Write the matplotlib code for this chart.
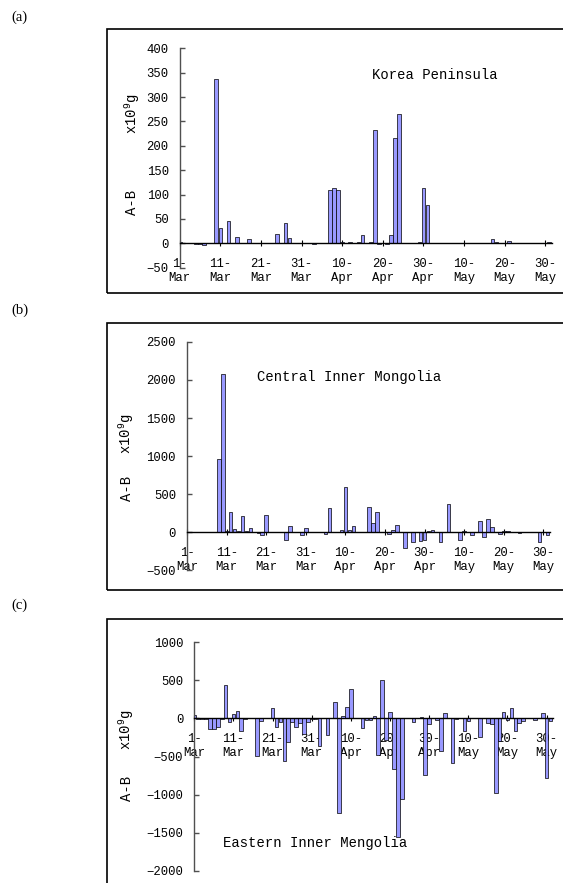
import numpy as np
import matplotlib
matplotlib.use('Agg')
import matplotlib.pyplot as plt
from matplotlib.patches import Rectangle

#%% data

tick_pos = [0, 10, 20, 30, 40, 50, 60, 70, 80, 90]
tick_lab = ['1-\nMar', '11-\nMar', '21-\nMar', '31-\nMar', '10-\nApr',
            '20-\nApr', '30-\nApr', '10-\nMay', '20-\nMay', '30-\nMay']

# daily A-B (x10^9 g), 1 Mar .. 1 Jun
korea = [3, 0, 0, 0, -1, -1, -3, 0, 0, 338,
         31, 0, 46, 0, 12, 0, 0, 8, 0, 0,
         0, 0, 0, 0, 20, 0, 42, 10, 0, 0,
         0, 0, 0, -2, 0, 0, 0, 110, 114, 110,
         3, 0, 2, 0, 2, 17, 0, 3, 232, -1,
         0, -1, 17, 215, 265, 0, 0, 0, 0, 2,
         113, 78, 0, 0, 0, 0, 0, 0, 0, 0,
         0, 0, 0, 1, 0, 0, 0, 9, 2, 0,
         0, 5, 0, 0, 0, 0, 0, 0, 0, 0,
         0, 2]

central = [0, 0, 0, 0, 0, 0, 0, 0, 960, 2080,
           20, 265, 40, 15, 215, 15, 50, 0, -10, -40,
           230, 0, 0, 5, 0, -105, 87, 0, 0, -40,
           50, 0, 0, 0, 0, -20, 322, 10, 10, 25,
           600, 35, 87, 0, 0, 0, 335, 117, 268, 10,
           10, -22, 31, 98, 0, -210, 0, -130, 0, -118,
           -103, 15, 33, 0, -130, 10, 366, 10, 0, -100,
           15, 0, -33, 0, 142, -57, 172, 65, 10, -22,
           12, 20, 10, 0, -10, 0, 5, 0, 0, -130,
           0, -33]

eastern = [40, -5, -5, -5, -140, -140, -110, -10, 435, -42,
           57, 96, -162, -10, 0, 0, -495, -35, 0, 0,
           143, -118, -44, -561, -305, -44, -112, -65, -210, -50,
           -10, -10, -360, 0, -220, 0, 215, -1245, 31, 145,
           392, 0, 10, -130, -15, -25, 31, -475, 508, -280,
           80, -670, -1563, -1063, 10, 0, -52, 0, 15, -745,
           -72, 0, -18, -423, 70, 0, -585, -5, 0, -160,
           -30, 0, 0, -240, 10, -60, -73, -985, -295, 88,
           -15, 140, -170, -60, -33, 0, 0, -15, 0, 65,
           -788, -30]

days = np.arange(len(korea))

#%% style

W, H = 563, 883
mono = 'Liberation Mono'
plt.rcParams['font.family'] = [mono, 'DejaVu Sans']
plt.rcParams['mathtext.fontset'] = 'custom'
plt.rcParams['mathtext.rm'] = mono
plt.rcParams['mathtext.it'] = mono

bar_col = '#9999FF'
axis_col = '#505050'


def fx(px):
    return px / W


def fy(py):
    return 1 - py / H


def panel(fig, box, vals, ylim, yticks, title, title_xy, lab_x, lab_y, frame_y, letter, letter_y):
    left, top, right, bottom = box
    ax = fig.add_axes([fx(left), fy(bottom), fx(right) - fx(left), fy(top) - fy(bottom)])
    ax.bar(days, vals, width=0.92, color=bar_col, edgecolor='black', linewidth=0.5, zorder=2)
    ax.set_xlim(0, 91.6)
    ax.set_ylim(*ylim)
    ax.set_yticks(yticks)
    ax.set_xticks(tick_pos)
    ax.set_xticklabels(tick_lab, linespacing=1.35)
    for s in ['top', 'right']:
        ax.spines[s].set_visible(False)
    ax.spines['bottom'].set_position(('data', 0))
    ax.spines['bottom'].set_color('black')
    ax.spines['bottom'].set_linewidth(1.0)
    ax.spines['bottom'].set_zorder(3)
    ax.spines['left'].set_color(axis_col)
    ax.spines['left'].set_linewidth(1.0)
    ax.tick_params(axis='y', direction='in', length=3.5, width=1.0, color=axis_col,
                   pad=8, labelsize=8.8)
    ax.tick_params(axis='x', direction='inout', length=4.5, width=0.8, color='black',
                   pad=8.5, labelsize=8.8)
    ax.patch.set_visible(False)

    ax.text(fx(title_xy[0]), fy(title_xy[1]), title, transform=fig.transFigure,
            fontsize=10, ha='left', va='baseline')
    fig.text(fx(lab_x), fy(lab_y[0]), 'x10$^{9}$g', rotation=90, fontsize=10,
             ha='center', va='center')
    fig.text(fx(lab_x), fy(lab_y[1]), 'A-B', rotation=90, fontsize=10,
             ha='center', va='center')
    fig.add_artist(Rectangle((fx(106.7), fy(frame_y[1])), fx(600) - fx(106.7),
                             fy(frame_y[0]) - fy(frame_y[1]), transform=fig.transFigure,
                             fill=False, ec='black', lw=1.2))
    fig.text(fx(11), fy(letter_y), letter, family='Liberation Serif', fontsize=10.5,
             ha='left', va='center')
    return ax


#%% main

fig = plt.figure(figsize=(W / 100, H / 100), dpi=100)

panel(fig, (179.8, 48.3, 551.8, 267.7), korea, (-50, 400), np.arange(-50, 401, 50),
      'Korea Peninsula', (371.7, 79), 131.7, (114, 202.5), (29.3, 293.3), '(a)', 17)
panel(fig, (187.1, 341.8, 549.7, 570.4), central, (-500, 2500), np.arange(-500, 2501, 500),
      'Central Inner Mongolia', (256.7, 381), 126.7, (433.5, 488.5), (322.7, 590), '(b)', 310)
panel(fig, (194.3, 642.3, 552.9, 870.7), eastern, (-2000, 1000), np.arange(-2000, 1001, 500),
      'Eastern Inner Mengolia', (222.7, 846.5), 126.7, (730, 788.5), (619, 900), '(c)', 605)

plt.savefig('out.png', dpi=100)
